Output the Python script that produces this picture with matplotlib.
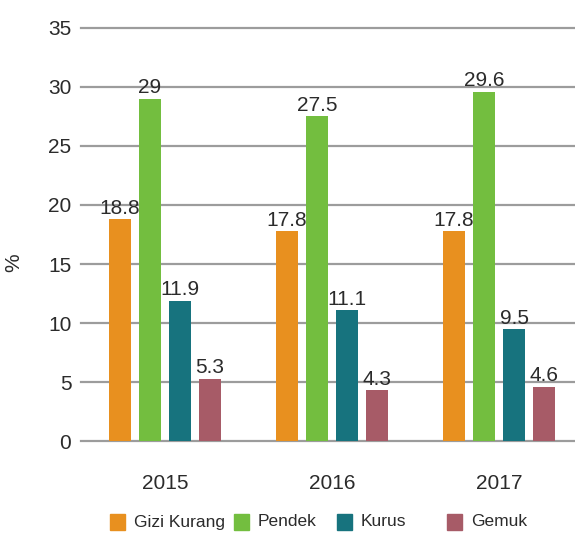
import matplotlib

matplotlib.use("Agg")
import matplotlib.pyplot as plt
from matplotlib.patches import Rectangle
import numpy as np

years = ["2015", "2016", "2017"]
series = ["Gizi Kurang", "Pendek", "Kurus", "Gemuk"]
gizi_kurang = [18.8, 17.8, 17.8]
pendek = [29, 27.5, 29.6]
kurus = [11.9, 11.1, 9.5]
gemuk = [5.3, 4.3, 4.6]
yticks = [0, 5, 10, 15, 20, 25, 30, 35]

colors = ["#E8901F", "#73BE3F", "#17737E", "#A75B67"]
text_color = "#2b2b2b"
grid_color = "#9c9c9c"

plt.rcParams["font.family"] = ["Liberation Sans", "DejaVu Sans"]

fig = plt.figure(figsize=(5.75, 5.36), dpi=100)
ax = fig.add_axes([0.141, 0.177, 0.859, 0.771])

x = np.arange(len(years))
width = 0.13
step = 0.18
values = [gizi_kurang, pendek, kurus, gemuk]
for i, (vals, col) in enumerate(zip(values, colors)):
    pos = x + (i - 1.5) * step
    bars = ax.bar(pos, vals, width=width, color=col, zorder=3)
    for b, v in zip(bars, vals):
        ax.annotate(f"{v:g}", (b.get_x() + b.get_width() / 2, v),
                    xytext=(0, 1), textcoords="offset points",
                    ha="center", va="bottom", fontsize=15, color=text_color, zorder=4)

for t in yticks:
    ax.axhline(t, color=grid_color, lw=1.6, zorder=1, clip_on=False)

ax.set_ylim(0, 35)
ax.set_xlim(-0.503, 2.455)
ax.set_yticks(yticks)
ax.set_xticks(x)
ax.set_xticklabels(years)
ax.tick_params(axis="y", length=0, pad=7, labelsize=15, labelcolor=text_color)
ax.tick_params(axis="x", length=0, pad=24, labelsize=15, labelcolor=text_color)
for s in ax.spines.values():
    s.set_visible(False)

ax.set_ylabel("%", fontsize=15, color=text_color)
ax.yaxis.set_label_coords(-0.118, 0.433)

# legend drawn as squares + labels
leg_x = [110, 234, 337, 447]
leg_y = 522
W, H = 575, 536
for lx, name, col in zip(leg_x, series, colors):
    fig.add_artist(Rectangle((lx / W, (H - leg_y - 8) / H), 15 / W, 16 / H,
                             transform=fig.transFigure, color=col))
    fig.text((lx + 24) / W, (H - leg_y) / H, name, fontsize=12.5,
             color=text_color, va="center", ha="left")

fig.savefig("out.png", dpi=100, facecolor="white")
